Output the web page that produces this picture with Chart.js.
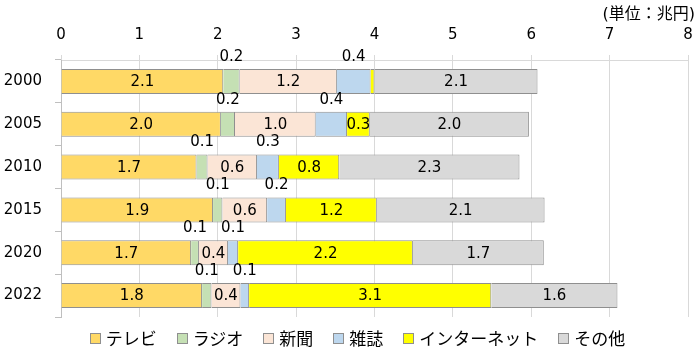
<!DOCTYPE html>
<html>
<head>
<meta charset="utf-8">
<script src="https://cdn.jsdelivr.net/npm/chart.js@4/dist/chart.umd.min.js"></script>
<style>
  html, body { margin: 0; padding: 0; background: #fff; }
  #wrap { width: 698px; height: 351px; position: relative; }
  #legend {
    position: absolute; left: 0; right: 0; top: 326px; height: 22px;
    display: flex; justify-content: center; align-items: center;
    padding-left: 17px; box-sizing: border-box;
    font-family: "DejaVu Sans", "Noto Sans CJK JP", sans-serif; font-size: 17px; color: #000;
  }
  .lg-item { display: flex; align-items: center; margin: 0 10px; }
  .lg-box { width: 9px; height: 9px; border: 1px solid #8f8f8f; margin-right: 5px; margin-top: 2px; }
</style>
</head>
<body>
<div id="wrap"><canvas id="c"></canvas><div id="legend"></div></div>
<script>
/* 媒体別広告費（兆円）— 横積み上げ棒 */
var YEARS = ['2000', '2005', '2010', '2015', '2020', '2022'];
var SERIES_NAMES = ['テレビ', 'ラジオ', '新聞', '雑誌', 'インターネット', 'その他'];

var TV        = [2.07, 2.04, 1.73, 1.94, 1.66, 1.80];
var RADIO     = [0.21, 0.18, 0.14, 0.12, 0.10, 0.12];
var NEWSPAPER = [1.24, 1.03, 0.63, 0.57, 0.37, 0.37];
var MAGAZINE  = [0.43, 0.40, 0.28, 0.24, 0.13, 0.11];
var INTERNET  = [0.05, 0.29, 0.77, 1.16, 2.23, 3.09];
var OTHER     = [2.08, 2.03, 2.30, 2.14, 1.67, 1.61];

var X_MIN = 0, X_MAX = 8, X_STEP = 1;
var UNIT_TEXT = '(単位：兆円)';

var COLORS = ['#FFD966', '#C5E0B4', '#FBE5D6', '#BDD7EE', '#FFFF00', '#D9D9D9'];
var LABEL_ABOVE = [false, true, false, true, false, false];
var FONT = '"DejaVu Sans", "Noto Sans CJK JP", sans-serif';

var seriesData = [TV, RADIO, NEWSPAPER, MAGAZINE, INTERNET, OTHER];

var datasets = seriesData.map(function (d, i) {
  return {
    label: SERIES_NAMES[i],
    data: d,
    backgroundColor: COLORS[i],
    borderColor: '#8f8f8f',
    borderWidth: 1,
    barPercentage: 0.585,
    categoryPercentage: 1
  };
});

/* 値ラベル：小さい区分は棒の上に置く */
var valueLabels = {
  id: 'valueLabels',
  afterDatasetsDraw: function (chart) {
    var ctx = chart.ctx;
    ctx.save();
    ctx.font = '15px ' + FONT;
    ctx.fillStyle = '#000';
    ctx.textAlign = 'center';
    ctx.textBaseline = 'middle';
    chart.data.datasets.forEach(function (ds, di) {
      chart.getDatasetMeta(di).data.forEach(function (bar, i) {
        var v = ds.data[i];
        if (v < 0.08) return;
        var cx = (bar.x + bar.base) / 2;
        var cy = LABEL_ABOVE[di] ? bar.y - bar.height / 2 - 12 : bar.y + 1;
        ctx.fillText(v.toFixed(1), cx, cy);
      });
    });
    ctx.restore();
  }
};

var unitLabel = {
  id: 'unitLabel',
  afterDraw: function (chart) {
    var ctx = chart.ctx;
    ctx.save();
    ctx.font = '16px ' + FONT;
    ctx.fillStyle = '#000';
    ctx.textAlign = 'right';
    ctx.textBaseline = 'middle';
    ctx.fillText(UNIT_TEXT, 695, 15);
    ctx.restore();
  }
};

new Chart(document.getElementById('c'), {
  type: 'bar',
  data: { labels: YEARS, datasets: datasets },
  plugins: [valueLabels, unitLabel],
  options: {
    indexAxis: 'y',
    responsive: true,
    maintainAspectRatio: false,
    animation: false,
    layout: { padding: { left: 0, right: 10, top: 0, bottom: 34 } },
    plugins: {
      legend: { display: false },
      tooltip: { enabled: false }
    },
    scales: {
      x: {
        position: 'top',
        stacked: true,
        min: X_MIN,
        max: X_MAX,
        ticks: { stepSize: X_STEP, color: '#000', font: { family: FONT, size: 15 }, padding: 11 },
        grid: { color: '#d9d9d9', tickLength: 5, tickColor: '#d9d9d9' },
        border: { color: '#d9d9d9' },
        afterFit: function (s) { s.height = 60; s.paddingRight = 5; s.paddingLeft = 5; }
      },
      y: {
        stacked: true,
        ticks: { color: '#000', font: { family: FONT, size: 15 }, padding: 13 },
        grid: { drawOnChartArea: false, tickLength: 6, tickColor: '#bfbfbf' },
        border: { color: '#bfbfbf' },
        afterFit: function (s) { s.width = 61; }
      }
    }
  }
});

/* 凡例（HTML） */
var legendEl = document.getElementById('legend');
legendEl.innerHTML = SERIES_NAMES.map(function (name, i) {
  return '<span class="lg-item"><span class="lg-box" style="background:' + COLORS[i] + '"></span>' + name + '</span>';
}).join('');
</script>
</body>
</html>
